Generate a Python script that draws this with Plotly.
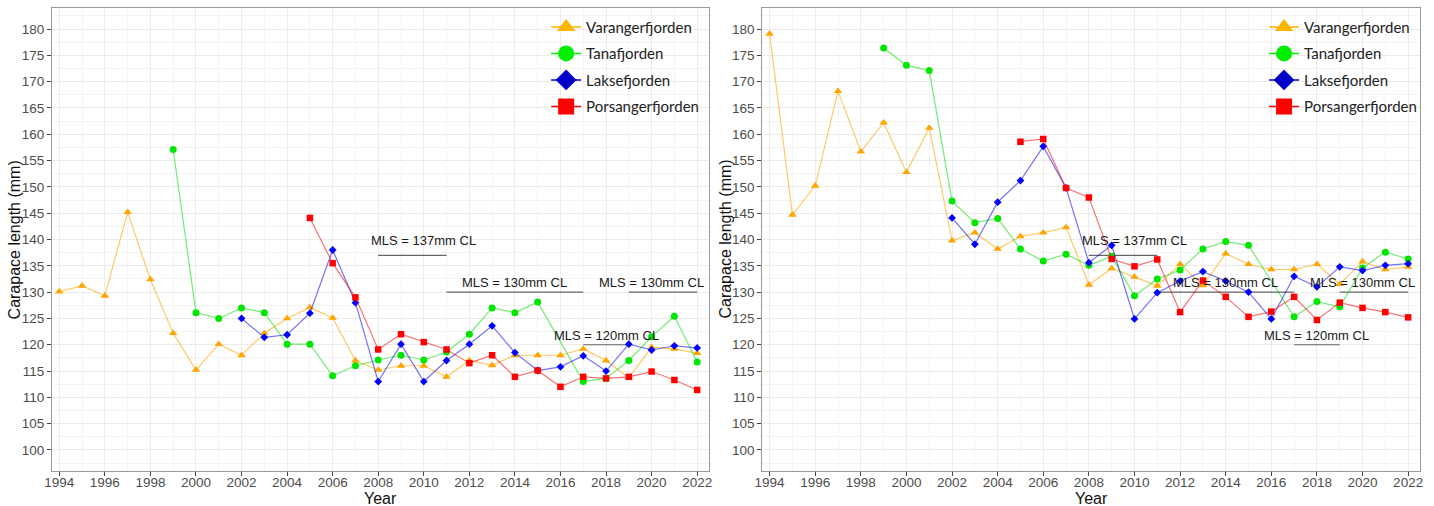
import plotly.graph_objects as go

# ---- data: mean carapace length (mm) per year, two panels ----
years_var = list(range(1994, 2023))
years_tana = list(range(1999, 2023))
years_lakse = list(range(2002, 2023))
years_pors = list(range(2005, 2023))

left_varanger = [130.1, 131.2, 129.3, 145.2, 132.4, 122.2, 115.2, 120.1, 118.0, 122.2,
                 125.0, 127.1, 125.1, 117.0, 115.2, 116.0, 116.0, 113.9, 117.0, 116.1,
                 118.0, 118.0, 118.0, 119.2, 117.0, 113.7, 119.5, 119.2, 118.4]
left_tana = [157.1, 126.1, 125.0, 127.0, 126.1, 120.1, 120.1, 114.1, 116.0, 117.1,
             118.0, 117.1, 118.6, 122.0, 127.0, 126.1, 128.1, None, 113.0, 113.6,
             117.0, 121.5, 125.4, 116.7]
left_lakse = [125.0, 121.4, 121.9, 126.0, 138.0, 128.0, 113.0, 120.1, 113.0, 117.0,
              120.1, 123.6, 118.5, 115.1, 115.8, 117.9, 115.0, 120.1, 119.0, 119.8, 119.4]
left_pors = [144.1, 135.5, 129.0, 119.1, 122.0, 120.5, 119.1, 116.5, 118.0, 113.9,
             115.1, 112.0, 113.9, 113.6, 113.9, 114.9, 113.3, 111.4]

right_varanger = [179.1, 144.7, 150.2, 168.2, 156.7, 162.2, 152.8, 161.2, 139.8, 141.3,
                  138.2, 140.6, 141.3, 142.3, 131.4, 134.5, 132.9, 131.2, 135.3, 131.3,
                  137.3, 135.3, 134.3, 134.3, 135.3, 131.5, 135.8, 134.3, 134.8]
right_tana = [176.4, 173.1, 172.1, 147.3, 143.2, 144.0, 138.2, 135.9, 137.2, 135.1,
              136.8, 129.3, 132.5, 134.2, 138.2, 139.6, 138.9, None, 125.3, 128.2,
              127.2, 134.6, 137.6, 136.3]
right_lakse = [144.1, 139.1, 147.1, 151.2, 157.7, 149.8, 135.6, 138.9, 124.9, 129.9,
               132.1, 133.9, 132.1, 130.0, 124.9, 133.0, 131.0, 134.8, 134.1, 135.1, 135.4]
right_pors = [158.6, 159.1, 149.8, 148.0, 136.3, 134.9, 136.2, 126.2, 132.2, 129.1,
              125.3, 126.3, 129.1, 124.7, 128.0, 127.0, 126.2, 125.2]

# minimum legal size periods
mls_value = [137, 130, 130, 120]
mls_start = [2008, 2011, 2019, 2017]
mls_end = [2011, 2017, 2022, 2019]
mls_label_year = [2010, 2014, 2020, 2018]

fjords = ["Varangerfjorden", "Tanafjorden", "Laksefjorden", "Porsangerfjorden"]

# ---- styling ----
symbols = ["triangle-up", "circle", "diamond", "square"]
marker_colors = ["#FFA500", "#00E600", "#0000FF", "#FF0000"]
legend_colors = ["#FFB400", "#00EE00", "#0000C8", "#FF0000"]
line_colors = ["rgba(255,165,0,0.6)", "rgba(0,220,0,0.55)",
               "rgba(0,0,230,0.55)", "rgba(240,0,0,0.55)"]
marker_sizes = [7.5, 7, 6, 6.5]
label_offset = [2.9, 1.8, 1.8, 1.8]

panels = [
    ("x", "y", "legend", "L",
     [(years_var, left_varanger), (years_tana, left_tana),
      (years_lakse, left_lakse), (years_pors, left_pors)]),
    ("x2", "y2", "legend2", "R",
     [(years_var, right_varanger), (years_tana, right_tana),
      (years_lakse, right_lakse), (years_pors, right_pors)]),
]

fig = go.Figure()

for xa, ya, leg, tag, series in panels:
    # MLS reference segments
    for v, s, e in zip(mls_value, mls_start, mls_end):
        fig.add_trace(go.Scatter(
            x=[s, e], y=[v, v], mode="lines", xaxis=xa, yaxis=ya,
            line=dict(color="#666666", width=1.2), showlegend=False,
            hoverinfo="skip"))
    for i, (yrs, vals) in enumerate(series):
        grp = f"{tag}{i}"
        fig.add_trace(go.Scatter(
            x=yrs, y=vals, mode="lines+markers", name=fjords[i],
            xaxis=xa, yaxis=ya, connectgaps=True, legendgroup=grp,
            showlegend=False,
            line=dict(color=line_colors[i], width=1.2),
            marker=dict(symbol=symbols[i], size=marker_sizes[i],
                        color=marker_colors[i], line=dict(width=0))))
        # legend entry with a large key glyph
        fig.add_trace(go.Scatter(
            x=[None], y=[None], mode="lines+markers", name=fjords[i],
            xaxis=xa, yaxis=ya, legend=leg, legendgroup=grp,
            line=dict(color=legend_colors[i], width=1.5),
            marker=dict(symbol=symbols[i], size=22, color=legend_colors[i],
                        line=dict(width=0))))

annotations = []
for xa, ya in [("x", "y"), ("x2", "y2")]:
    for v, lx, off in zip(mls_value, mls_label_year, label_offset):
        annotations.append(dict(
            x=lx, y=v + off, xref=xa, yref=ya, text=f"MLS = {v}mm CL",
            showarrow=False, font=dict(family="Liberation Sans", size=13, color="#1a1a1a")))

tickfont = dict(family="Liberation Sans", size=13.5, color="#4D4D4D")
titlefont = dict(family="Liberation Sans", size=16, color="#111111")

# axis titles placed as paper annotations
left_dom = [0, 0.48026]
right_dom = [0.51923, 1]
for dom, ytitle_x in [(left_dom, -0.0271), (right_dom, 0.4920)]:
    annotations.append(dict(
        x=(dom[0] + dom[1]) / 2, y=-0.0594, xref="paper", yref="paper",
        text="Year", showarrow=False, font=titlefont,
        xanchor="center", yanchor="middle"))
    annotations.append(dict(
        x=ytitle_x, y=0.5, xref="paper", yref="paper",
        text="Carapace length (mm)", textangle=-90, showarrow=False,
        font=titlefont, xanchor="center", yanchor="middle"))

def xaxis_cfg(domain, anchor):
    return dict(
        domain=domain, anchor=anchor, range=[1993.68, 2022.52],
        tick0=1994, dtick=2, ticks="outside", ticklen=4, tickcolor="#444",
        ticklabelstandoff=-5,
        tickfont=tickfont, showgrid=True, gridcolor="#EBEBEB", gridwidth=1,
        minor=dict(dtick=1, showgrid=True, gridcolor="#F4F4F4", ticks=""),
        showline=True, linecolor="#9A9A9A", linewidth=1, mirror=True,
        zeroline=False)

def yaxis_cfg(anchor):
    return dict(
        domain=[0, 1], anchor=anchor, range=[96, 184],
        tick0=100, dtick=5, ticks="outside", ticklen=4, tickcolor="#444",
        tickfont=tickfont, showgrid=True, gridcolor="#EBEBEB", gridwidth=1,
        minor=dict(dtick=2.5, showgrid=True, gridcolor="#F4F4F4", ticks=""),
        showline=True, linecolor="#9A9A9A", linewidth=1, mirror=True,
        zeroline=False)

legend_font = dict(family="Lato", size=15, color="#222222")

fig.update_layout(
    width=1434, height=506,
    margin=dict(l=52, r=14, t=8, b=35),
    paper_bgcolor="white", plot_bgcolor="white",
    xaxis=xaxis_cfg(left_dom, "y"),
    yaxis=yaxis_cfg("x"),
    xaxis2=xaxis_cfg(right_dom, "y2"),
    yaxis2=yaxis_cfg("x2"),
    legend=dict(x=0.3612, y=0.9943, xanchor="left", yanchor="top",
                bgcolor="rgba(0,0,0,0)", font=legend_font, tracegroupgap=4),
    legend2=dict(x=0.886, y=0.9943, xanchor="left", yanchor="top",
                 bgcolor="rgba(0,0,0,0)", font=legend_font, tracegroupgap=4),
    annotations=annotations,
)

fig.write_html("out.html")
